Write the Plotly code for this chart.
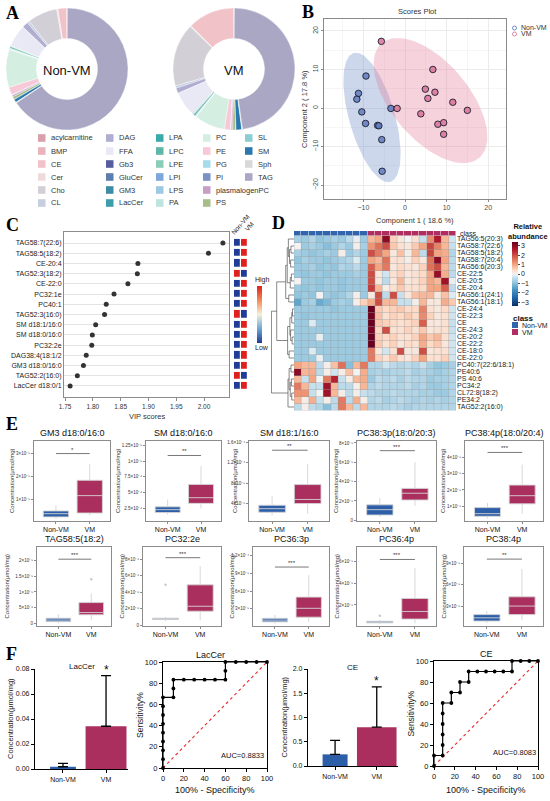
import numpy as np
import plotly.graph_objects as go

W, H = 550, 801
SANS = "Liberation Sans"
SERIF = "Liberation Serif"

# ===================== DATA =====================
# A: lipid class composition (% of total)
lipid_classes = ["acylcarnitine", "BMP", "CE", "Cer", "Cho", "CL",
                 "DAG", "FFA", "Gb3", "GluCer", "GM3", "LacCer",
                 "LPA", "LPC", "LPE", "LPI", "LPS", "PA",
                 "PC", "PE", "PG", "PI", "plasmalogenPC", "PS",
                 "SL", "SM", "Sph", "TAG"]
class_colors = ["#D8A1A9", "#E9B3BC", "#F1C3C8", "#EEDCDD", "#D2D0D6", "#C5CFDF",
                "#AFADD0", "#E8E9F5", "#575C9C", "#5C7DAE", "#3C8CA6", "#3D9DAB",
                "#39AAAA", "#5DB6A6", "#8ACDB8", "#7DA6DA", "#9DC9E2", "#BDE4DF",
                "#D4EEE1", "#F6C8D8", "#A6DBEA", "#7B91C6", "#C69EC6", "#A6BE88",
                "#8ACDD4", "#2A79AE", "#D8D8D8", "#AAA7C5"]
nonvm_share = [0.1, 0.1, 2.2, 0.3, 7.5, 0.6,
               1.5, 5.5, 0.05, 0.1, 0.05, 0.05,
               0.05, 0.4, 0.2, 0.05, 0.05, 0.1,
               9.5, 2.0, 0.05, 0.1, 0.4, 0.7,
               0.05, 0.8, 0.2, 62.0]
vm_share = [0.1, 0.1, 12.2, 0.3, 16.5, 0.6,
            1.4, 6.5, 0.05, 0.1, 0.05, 0.1,
            0.05, 0.5, 0.2, 0.05, 0.05, 0.1,
            8.0, 1.6, 0.05, 0.1, 0.4, 0.8,
            0.05, 1.5, 0.2, 47.0]

# B: PLS-DA scores
nonvm_c1 = [-9.4, -11.2, -11.6, -10.4, -9.5, -6.6, -6.3, -5.6, -5.5, -3.4]
nonvm_c2 = [8.3, 3.8, 2.3, -1.0, -4.0, -4.5, -4.6, -8.2, -16.4, -0.1]
vm_c1 = [-5.7, -1.9, 6.7, 4.9, 7.2, 5.5, 11.5, 15.0, 3.8, 7.9, 9.3, 9.3]
vm_c2 = [17.3, -0.1, 10.0, 4.9, 4.1, 2.5, 1.5, -0.6, -1.5, -4.2, -3.8, -6.8]

# C: VIP scores
vip_names = ["TAG58:7(22:6)", "TAG58:5(18:2)", "CE-20:4", "TAG52:3(18:2)", "CE-22:0",
             "PC32:1e", "PC40:1", "TAG52:3(16:0)", "SM d18:1/16:0", "SM d18:0/16:0",
             "PC32:2e", "DAG38:4(18:1/2", "GM3 d18:0/16:0", "TAG52:2(16:0)", "LacCer d18:0/1"]
vip_scores = [2.034, 2.008, 1.881, 1.880, 1.863, 1.838, 1.824, 1.821, 1.805, 1.799,
              1.798, 1.788, 1.783, 1.772, 1.759]
vip_vm_higher = [1, 1, 1, 0, 1, 1, 1, 0, 1, 1, 1, 1, 1, 0, 1]

# D: heatmap (relative abundance, z-score)
hm_rows = ["TAG56:5(20:3)", "TAG58:7(22:6)", "TAG58:5(18:2)", "TAG58:7(20:4)", "TAG56:6(20:3)",
           "CE-22:5", "CE-20:5", "CE-20:4", "TAG56:1(24:1)", "TAG56:1(18:1)",
           "CE-24:4", "CE-22:3", "CE", "CE-24:3", "CE-20:2", "CE-22:2", "CE-18:0", "CE-22:0",
           "PC40:7(22:6/18:1)", "PE40:6", "PS 40:6", "PC34:2", "CL72:8(18:2)", "PE34:2", "TAG52:2(16:0)"]
hm_class = [0] * 10 + [1] * 12
hm_values = [
    [-0.7, -0.8, -0.6, -0.9, -0.8, -0.7, -0.8, -0.5, -0.1, -0.8, 0.8, 1.0, 3.0, 0.5, 0.2, 0.0, 0.3, -0.4, 1.3, 2.6, 0.8, -0.3],
    [0.0, -0.8, -0.7, -0.8, -1.0, -0.8, -0.6, -0.8, 0.1, -0.7, 1.2, 1.6, 2.0, 0.6, 0.3, 0.2, 0.6, 1.0, 2.1, 1.4, 0.8, -0.4],
    [-0.7, -0.8, -0.9, -0.8, -0.7, -0.8, 0.1, -0.8, -0.6, -0.8, 2.0, 1.5, 1.0, 0.2, 0.7, 0.1, 0.8, -0.5, 2.1, 1.0, 0.9, -0.6],
    [-0.9, -0.7, -0.8, -0.8, -0.9, -0.8, -0.7, -0.6, -0.2, -0.8, 1.0, 0.8, 1.6, 0.3, 0.3, 0.1, 0.5, 0.2, 1.6, 3.0, 1.0, -0.5],
    [-0.8, -0.8, -0.7, -0.9, -0.8, -0.9, -0.6, -0.7, -0.5, -0.8, 1.8, 1.0, 1.5, 0.2, 0.4, 0.3, 0.2, 0.5, 1.6, 2.0, 0.8, -0.5],
    [-0.8, -0.9, -0.8, -0.8, -0.9, -0.8, -0.8, -0.8, -0.7, -0.8, 2.0, 0.2, -0.3, 0.3, 0.5, 0.2, 0.3, 0.4, 1.0, 2.9, 0.9, -0.5],
    [0.0, -0.8, -0.8, -0.9, -0.8, -0.8, -0.9, -0.8, -0.8, -0.8, 2.0, 0.2, -0.5, 0.2, 0.8, 0.2, 0.3, 0.5, 1.0, 0.8, 2.8, -0.1],
    [-0.8, -0.9, -0.8, -0.9, -0.8, -0.8, -0.9, -0.8, -0.8, -0.8, 2.2, 0.8, 0.1, 0.3, 0.6, 0.3, 0.3, 0.4, 1.0, 1.0, 1.8, -0.5],
    [-0.9, -0.8, -0.9, 0.0, -0.8, -0.9, -0.8, -0.6, 0.1, -0.8, 0.2, 2.0, -0.5, 2.0, -0.4, 0.2, 0.7, 0.8, 0.8, 0.2, 0.7, -0.2],
    [-1.4, -0.8, -0.7, -1.3, -1.1, -0.8, -0.7, -0.8, 0.1, 0.5, 0.9, 2.0, 0.8, 0.8, -0.4, -0.4, 0.1, 0.8, 0.2, 0.2, 0.9, 0.6],
    [-0.8, -0.8, -0.8, -0.8, -0.8, -0.9, -0.8, -0.8, -0.8, -0.8, 3.4, 0.6, 0.4, 0.5, 0.6, 0.4, 0.4, 1.4, 0.3, 0.2, 0.4, -0.3],
    [-0.8, -0.9, -0.8, -0.8, -0.8, -0.8, -0.8, -0.8, -0.8, -0.8, 3.3, 0.7, 0.3, 0.5, 0.4, 0.6, 0.4, 1.3, 0.5, 0.2, 0.3, -0.3],
    [-0.8, -0.8, -0.2, -0.8, -0.8, -0.8, -0.8, -0.8, -0.8, -0.8, 3.4, 0.6, 0.5, 0.4, 0.3, 0.4, 0.5, 1.8, 0.2, 0.2, 0.3, -0.4],
    [-0.8, -0.8, -0.8, -0.8, -0.8, -0.8, -0.8, -0.8, -0.8, -0.8, 3.2, 0.4, 2.0, 0.3, 0.3, 0.5, 0.3, 0.6, 0.2, 0.3, 0.3, -0.4],
    [-0.8, -0.8, -0.8, -0.1, -0.8, -0.8, -0.8, -0.8, -0.8, -0.8, 3.5, 0.5, 0.4, 0.5, 0.3, 0.3, 0.5, 1.0, 0.6, 0.8, 0.3, -0.3],
    [-0.8, -0.8, -0.8, -0.8, -0.8, -0.8, -0.8, -0.8, -0.8, -0.8, 3.4, 0.6, 0.3, 0.5, 0.2, 0.4, 0.3, 0.9, 0.4, 0.6, 0.2, -0.3],
    [-0.8, -0.8, -0.2, -0.8, -0.8, -0.8, -0.8, -0.8, -0.8, -0.8, 1.5, 0.2, -0.3, 0.3, 2.0, 0.2, 0.2, 2.0, 0.2, 0.3, 0.3, -0.3],
    [-0.8, -0.8, -0.8, -0.1, -0.8, -0.8, -0.8, -0.8, -0.8, -0.8, 1.5, 0.5, 0.3, 0.6, 0.3, 0.2, 0.5, 1.0, 0.3, 0.3, 0.5, -0.3],
    [1.0, 0.8, 0.8, -0.5, 0.1, 0.7, 1.6, -1.0, 0.8, 1.5, -0.6, -0.6, -0.3, -0.5, -0.6, -0.5, -0.6, -0.4, -0.7, -0.9, -0.8, -0.7],
    [3.0, 0.8, 0.9, -0.5, 0.1, -0.3, 0.1, 0.7, 0.0, 0.9, -0.7, -0.6, -0.7, -0.6, -0.6, -0.5, -0.7, -0.6, -0.7, -0.8, -0.7, -0.6],
    [0.8, -0.4, 1.0, 0.0, 1.5, 2.5, -0.4, 0.1, 0.8, 0.9, -0.8, -0.5, -0.6, -0.5, -0.7, -0.5, -0.6, -0.6, -0.8, -0.7, -0.7, -0.6],
    [1.5, 0.8, -0.4, -0.4, 2.8, 0.8, -0.5, -0.5, 0.1, 0.8, -0.6, -0.5, -0.6, -0.6, -0.6, -0.5, -0.7, -0.6, -0.8, -0.8, -0.7, -0.6],
    [1.2, 1.2, -0.4, 0.0, 2.8, 0.8, 0.1, -0.5, 0.1, -0.4, -0.5, -0.6, -0.6, -0.5, -0.6, -0.6, -0.6, -0.7, -0.7, -0.8, -0.8, -0.6],
    [0.8, 0.1, 0.9, -0.4, 0.1, -0.5, 1.5, -0.5, 0.9, 0.1, -0.6, -0.5, -0.7, -0.6, -0.5, -0.6, -0.7, -0.6, -0.7, -0.6, -0.7, -0.6],
    [-0.5, 0.1, -0.5, -0.6, -1.0, -0.5, 1.5, 0.8, -0.5, 0.8, -0.6, -0.6, -0.6, -0.5, -0.6, -0.7, -0.6, -0.6, -0.6, -0.6, -0.6, -0.6],
]
# row dendrogram linkage: (child a, child b, height); new clusters numbered from 25
hm_linkage = [(1, 2, 0.8), (3, 4, 0.9), (25, 26, 1.2), (0, 27, 1.5), (5, 6, 0.7), (29, 7, 1.0),
              (28, 30, 1.8), (8, 9, 1.4), (31, 32, 2.2), (10, 11, 0.4), (12, 34, 0.6), (14, 15, 0.5),
              (13, 36, 0.9), (35, 37, 1.1), (16, 17, 1.3), (38, 39, 1.7), (33, 40, 4.6),
              (18, 19, 0.8), (20, 21, 0.7), (22, 23, 0.6), (43, 44, 1.0), (42, 45, 1.3), (46, 24, 1.6),
              (41, 47, 6.0)]

# E: box plot summaries [lower whisker, Q1, median, Q3, upper whisker] (in tick units)
box_titles = ["GM3 d18:0/16:0", "SM d18:0/16:0", "SM d18:1/16:0", "PC38:3p(18:0/20:3)", "PC38:4p(18:0/20:4)",
              "TAG58:5(18:2)", "PC32:2e", "PC36:3p", "PC36:4p", "PC38:4p"]
box_nonvm = [[0.15, 0.23, 0.37, 0.49, 0.74], [1.5, 1.84, 2.3, 2.75, 3.9], [1.7, 2.3, 3.0, 3.67, 5.4],
             [0.35, 0.55, 1.1, 1.6, 2.3], [0.25, 0.39, 0.55, 0.92, 1.2], [0.0, 0.05, 0.1, 0.16, 0.28],
             [0.5, 0.7, 0.78, 0.85, 1.0], [0.5, 0.8, 1.1, 1.4, 2.0], [0.25, 0.35, 0.42, 0.5, 0.6],
             [0.6, 0.9, 1.35, 1.8, 2.3]]
box_vm = [[0.3, 0.40, 1.16, 1.83, 2.53], [2.5, 3.3, 4.2, 6.3, 9.2], [2.0, 4.0, 4.8, 7.7, 11.7],
          [1.5, 2.1, 2.8, 3.3, 6.0], [0.55, 1.15, 1.65, 2.3, 3.55], [0.1, 0.27, 0.34, 0.66, 0.95],
          [0.6, 1.7, 2.3, 4.9, 7.2], [0.8, 1.6, 3.1, 5.0, 8.75], [0.3, 0.7, 1.4, 2.6, 5.4],
          [1.0, 1.8, 3.0, 4.3, 8.2]]
box_out_nonvm = [[], [], [], [], [], [], [4.9], [], [1.0], []]
box_out_vm = [[], [], [], [], [], [1.41], [], [], [], []]
sig_labels = ["*", "**", "**", "***", "***", "***", "***", "***", "***", "**"]
sig_heights = [3.0, 10.9, 14.4, 7.2, 4.3, 2.05, 8.2, 10.1, 6.2, 9.6]
box_tickvals = [[1, 2, 3], [2.5, 5, 7.5, 10, 12.5], [4, 8, 12, 16], [0, 2, 4, 6, 8], [1, 2, 3, 4],
                [0, 0.5, 1, 1.5, 2], [0, 2, 4, 6, 8], [3, 6, 9, 12], [0, 2, 4, 6], [3, 6, 9]]
box_ticktext = [["1×10⁻⁵", "2×10⁻⁵", "3×10⁻⁵"],
                ["2.5×10⁻⁶", "5×10⁻⁶", "7.5×10⁻⁶", "1×10⁻⁵", "1.25×10⁻⁵"],
                ["4×10⁻⁵", "8×10⁻⁵", "1.2×10⁻⁴", "1.6×10⁻⁴"],
                ["0", "2×10⁻⁵", "4×10⁻⁵", "6×10⁻⁵", "8×10⁻⁵"],
                ["1×10⁻⁵", "2×10⁻⁵", "3×10⁻⁵", "4×10⁻⁵"],
                ["0", "5×10⁻⁶", "1×10⁻⁵", "1.5×10⁻⁵", "2×10⁻⁵"],
                ["0", "2×10⁻⁶", "4×10⁻⁶", "6×10⁻⁶", "8×10⁻⁶"],
                ["3×10⁻⁵", "6×10⁻⁵", "9×10⁻⁵", "1.2×10⁻⁴"],
                ["0", "2×10⁻⁵", "4×10⁻⁵", "6×10⁻⁵"],
                ["3×10⁻⁵", "6×10⁻⁵", "9×10⁻⁵"]]

# F: bar means / SD and ROC curves
groups = ["Non-VM", "VM"]
laccer_mean = [0.0018, 0.0342]
laccer_sd = [0.0027, 0.0405]
ce_mean = [0.24, 0.80]
ce_sd = [0.29, 0.83]
roc_laccer_fpr = [0, 0, 0, 0, 0, 0, 0, 0, 0, 10, 10, 10, 20, 30, 40, 50, 60, 60, 60, 70, 80, 90, 100]
roc_laccer_tpr = [0, 8.333, 16.667, 25, 33.333, 41.667, 50, 58.333, 66.667, 66.667, 75, 83.333, 83.333,
                  83.333, 83.333, 83.333, 83.333, 91.667, 100, 100, 100, 100, 100]
roc_ce_fpr = [0, 0, 8.333, 8.333, 8.333, 8.333, 8.333, 8.333, 16.667, 16.667, 25, 25, 33.333, 33.333,
              41.667, 50, 58.333, 66.667, 75, 75, 83.333, 91.667, 100]
roc_ce_tpr = [0, 10, 10, 20, 30, 40, 50, 60, 60, 70, 70, 80, 80, 90, 90, 90, 90, 90, 90, 100, 100, 100, 100]

BLUE = "#2D5FA8"
CRIMSON = "#AA2F5E"

# ===================== HELPERS =====================
fig = go.Figure()
axes = {}
annotations = []
shapes = []
counter = [0]


def new_axes(x0, x1, y0, y1, xkw=None, ykw=None):
    counter[0] += 1
    k = counter[0]
    s = "" if k == 1 else str(k)
    xa = dict(domain=[x0 / W, x1 / W], anchor="y" + s, showgrid=False, zeroline=False)
    ya = dict(domain=[1 - y1 / H, 1 - y0 / H], anchor="x" + s, showgrid=False, zeroline=False)
    xa.update(xkw or {})
    ya.update(ykw or {})
    axes["xaxis" + s] = xa
    axes["yaxis" + s] = ya
    return "x" + s, "y" + s


def ann(text, x, y, size=8, color="#222", family=SANS, **kw):
    d = dict(text=text, x=x / W, y=1 - y / H, xref="paper", yref="paper", showarrow=False,
             xanchor="center", yanchor="middle",
             font=dict(size=size, family=family, color=color))
    d.update(kw)
    annotations.append(d)


def prect(x0, y0, x1, y1, color, line=None):
    shapes.append(dict(type="rect", xref="paper", yref="paper", x0=x0 / W, x1=x1 / W,
                       y0=1 - y1 / H, y1=1 - y0 / H, fillcolor=color,
                       line=line or dict(width=0)))


# panel letters
for lab, (lx, ly) in zip("ABCDEF", [(4, 13), (300, 12), (4, 225), (270, 223), (4, 424), (4, 654)]):
    ann("<b>" + lab + "</b>", lx, ly, size=18, color="black", family=SERIF, xanchor="left")

# ===================== A: donuts =====================
for vals, (cx, name) in zip([nonvm_share, vm_share], [(67, "Non-VM"), (234, "VM")]):
    fig.add_trace(go.Pie(labels=lipid_classes, values=vals, hole=0.5, sort=False,
                         direction="counterclockwise", rotation=0, textinfo="none",
                         marker=dict(colors=class_colors, line=dict(color="white", width=0.4)),
                         showlegend=False,
                         domain=dict(x=[(cx - 61) / W, (cx + 61) / W], y=[1 - 130 / H, 1 - 8 / H])))
    ann(name, cx, 70, size=13, color="#111")

leg_cols = [38, 106, 156, 203, 245]
leg_rows = [138, 151, 164, 177, 190, 203]
for i, (nm, col) in enumerate(zip(lipid_classes, class_colors)):
    cxl = leg_cols[i // 6]
    cyl = leg_rows[i % 6]
    prect(cxl, cyl - 3.8, cxl + 7.5, cyl + 3.8, col)
    ann(nm, cxl + 11, cyl, size=7.5, color="#333", xanchor="left")

# ===================== B: scores plot =====================
bx, by = new_axes(324, 506, 19, 199,
                  dict(range=[-19.5, 24.3], tickvals=[-10, 0, 10, 20], showgrid=True, gridcolor="#ebebeb",
                       minor=dict(dtick=5, showgrid=True, gridcolor="#f5f5f5"),
                       showline=True, mirror=True, linecolor="#8a8a8a", ticks="outside", ticklen=2,
                       tickcolor="#8a8a8a", tickfont=dict(size=7, color="#4d4d4d", family=SANS)),
                  dict(range=[-23.6, 23.1], tickvals=[-20, -10, 0, 10, 20], showgrid=True, gridcolor="#ebebeb",
                       minor=dict(dtick=5, showgrid=True, gridcolor="#f5f5f5"),
                       showline=True, mirror=True, linecolor="#8a8a8a", ticks="outside", ticklen=2,
                       tickcolor="#8a8a8a", tickangle=-90, tickfont=dict(size=7, color="#4d4d4d", family=SANS)))


def conf_ellipse(x, y, k=2.4477, n=120):
    x = np.asarray(x, float)
    y = np.asarray(y, float)
    vals, vecs = np.linalg.eigh(np.cov(x, y))
    t = np.linspace(0, 2 * np.pi, n)
    pts = vecs @ (k * np.sqrt(vals)[:, None] * np.vstack([np.cos(t), np.sin(t)]))
    return x.mean() + pts[0], y.mean() + pts[1]


for cx1, cx2, fill in [(nonvm_c1, nonvm_c2, "rgba(120,150,205,0.38)"),
                       (vm_c1, vm_c2, "rgba(225,125,155,0.35)")]:
    ex, ey = conf_ellipse(cx1, cx2)
    fig.add_trace(go.Scatter(x=ex, y=ey, mode="lines", fill="toself", fillcolor=fill,
                             line=dict(width=0), hoverinfo="skip", showlegend=False, xaxis=bx, yaxis=by))
for cx1, cx2, col in [(nonvm_c1, nonvm_c2, "rgba(95,125,190,0.85)"), (vm_c1, vm_c2, "rgba(215,115,150,0.85)")]:
    fig.add_trace(go.Scatter(x=cx1, y=cx2, mode="markers",
                             marker=dict(size=6.5, color=col, line=dict(color="#1c1c2c", width=0.9)),
                             showlegend=False, xaxis=bx, yaxis=by))
ann("Scores Plot", 417, 11, size=7.5, color="#333")
ann("Component 1 ( 18.6 %)", 415, 220, size=7.5, color="#333")
ann("Component 2 ( 17.8 %)", 304, 109, size=7.5, color="#333", textangle=-90)
for nm, yy, col in [("Non-VM", 28, "#5f80c0"), ("VM", 34, "#d57a98")]:
    shapes.append(dict(type="circle", xref="paper", yref="paper", x0=512.5 / W, x1=516.5 / W,
                       y0=1 - (yy + 2) / H, y1=1 - (yy - 2) / H, line=dict(color=col, width=0.9)))
    ann(nm, 519, yy, size=7, color="#333", xanchor="left")

# ===================== C: VIP plot =====================
nrow = len(vip_names)
cx_, cy_ = new_axes(64, 229, 232, 397,
                    dict(range=[1.748, 2.045], tickvals=[1.75, 1.80, 1.85, 1.90, 1.95, 2.00],
                         ticktext=["1.75", "1.80", "1.85", "1.90", "1.95", "2.00"],
                         showline=True, mirror=True, linecolor="#8c8c8c", ticks="outside", ticklen=3,
                         tickcolor="#8c8c8c", tickfont=dict(size=6.5, color="#333", family=SANS)),
                    dict(range=[nrow - 1 + 1.08, -1.08], tickvals=list(range(nrow)), ticktext=vip_names,
                         showgrid=True, gridcolor="#e4e4e4", showline=True, mirror=True, linecolor="#8c8c8c",
                         ticks="", tickfont=dict(size=7, color="#222", family=SANS)))
fig.add_trace(go.Scatter(x=vip_scores, y=list(range(nrow)), mode="markers",
                         marker=dict(size=5, color="#333333"), showlegend=False, xaxis=cx_, yaxis=cy_))
ann("VIP scores", 147, 416, size=7.5, color="#333")

sqx, sqy = new_axes(234, 248, 232, 397,
                    dict(range=[-0.5, 1.5], visible=False),
                    dict(range=[nrow - 1 + 1.08, -1.08], visible=False))
sq_z = [[1 - v, v] for v in vip_vm_higher]
vip_scale = [[0, "#1F3C98"], [0.25, "#6FA6D6"], [0.5, "#F4F1D8"], [0.75, "#F58A52"], [1, "#E01F1F"]]
fig.add_trace(go.Heatmap(z=sq_z, x=[0, 1], y=list(range(nrow)), colorscale=vip_scale, zmin=0, zmax=1,
                         xgap=1.2, ygap=3.2, xaxis=sqx, yaxis=sqy,
                         colorbar=dict(x=257 / W, xanchor="left", y=1 - 314.5 / H, yanchor="middle",
                                       len=57 / H, lenmode="fraction", thickness=5, outlinewidth=0,
                                       xpad=0, ypad=0, showticklabels=False, ticks="")))
ann("Non-VM", 240, 224, size=6.5, color="#222", textangle=-50)
ann("VM", 249, 226, size=6.5, color="#222", textangle=-50)
ann("High", 262, 280, size=7, color="#222")
ann("Low", 262, 348, size=7, color="#222")

# ===================== D: heatmap =====================
nr, nc = len(hm_rows), len(hm_class)
hx, hy = new_axes(294, 456, 235.5, 410.5,
                  dict(range=[-0.5, nc - 0.5], visible=False),
                  dict(range=[nr - 0.5, -0.5], side="right", tickvals=list(range(nr)), ticktext=hm_rows,
                       ticks="", tickfont=dict(size=7, color="#222", family=SANS)))
hm_scale = [[0, "#053061"], [0.132, "#2166AC"], [0.25, "#4393C3"], [0.368, "#92C5DE"],
            [0.456, "#D1E5F0"], [0.5, "#F3F3F3"], [0.559, "#FDDBC7"], [0.647, "#F4A582"],
            [0.765, "#D6604D"], [0.882, "#B2182B"], [1, "#67001F"]]
fig.add_trace(go.Heatmap(z=hm_values, x=list(range(nc)), y=list(range(nr)), colorscale=hm_scale,
                         zmin=-3.4, zmax=3.4, xaxis=hx, yaxis=hy,
                         colorbar=dict(x=512 / W, xanchor="left", y=1 - 274 / H, yanchor="middle",
                                       len=64 / H, lenmode="fraction", thickness=6, outlinewidth=0,
                                       xpad=0, ypad=0,
                                       tickvals=[-3, -2, -1, 0, 1, 2, 3], ticks="outside", ticklen=2,
                                       tickfont=dict(size=7, color="#222", family=SANS))))
for k in range(nc + 1):
    shapes.append(dict(type="line", xref=hx, yref=hy, x0=k - 0.5, x1=k - 0.5, y0=-0.5, y1=nr - 0.5,
                       line=dict(color="#9c9c9c", width=0.4), layer="above"))
for k in range(nr + 1):
    shapes.append(dict(type="line", xref=hx, yref=hy, x0=-0.5, x1=nc - 0.5, y0=k - 0.5, y1=k - 0.5,
                       line=dict(color="#9c9c9c", width=0.4), layer="above"))

cbx, cby = new_axes(294, 456, 231, 235.5, dict(range=[-0.5, nc - 0.5], visible=False),
                    dict(range=[-0.5, 0.5], visible=False))
fig.add_trace(go.Heatmap(z=[hm_class], x=list(range(nc)), y=[0], colorscale=[[0, "#3064AD"], [1, "#B02D62"]],
                         zmin=0, zmax=1, showscale=False, xgap=0.5, xaxis=cbx, yaxis=cby))
ann("class", 458, 233, size=7, color="#222", xanchor="left")


def dendro_lines(linkage, n_leaves):
    pos = {i: float(i) for i in range(n_leaves)}
    hgt = {i: 0.0 for i in range(n_leaves)}
    xs, ys = [], []
    for k, (a, b, h) in enumerate(linkage):
        for ch in (a, b):
            xs += [hgt[ch], h, None]
            ys += [pos[ch], pos[ch], None]
        xs += [h, h, None]
        ys += [pos[a], pos[b], None]
        pos[n_leaves + k] = (pos[a] + pos[b]) / 2
        hgt[n_leaves + k] = h
    return xs, ys


dxs, dys = dendro_lines(hm_linkage, nr)
maxh = max(h for _, _, h in hm_linkage)
dx_, dy_ = new_axes(271, 294, 235.5, 410.5, dict(range=[maxh * 1.02, 0], visible=False),
                    dict(range=[nr - 0.5, -0.5], visible=False))
fig.add_trace(go.Scatter(x=dxs, y=dys, mode="lines", line=dict(color="#555", width=0.7),
                         showlegend=False, xaxis=dx_, yaxis=dy_))

ann("<b>Relative</b><br><b>abundance</b>", 528, 231, size=7.5, color="#111")
ann("<b>class</b>", 511, 318, size=8, color="#111", xanchor="left")
prect(512, 322, 518, 328, "#3064AD")
prect(512, 329, 518, 335, "#B02D62")
ann("Non-VM", 520, 325, size=7, color="#222", xanchor="left")
ann("VM", 520, 332, size=7, color="#222", xanchor="left")

# ===================== E: box plots =====================
e_frames = [(34, 110, 441, 521), (146, 221, 441, 521), (249, 329, 441, 521), (357, 436, 441, 521),
            (465, 543, 441, 521),
            (37, 111, 547, 626), (143, 221, 547, 626), (253, 329, 547, 626), (357, 436, 547, 626),
            (464, 543, 547, 626)]
e_yranges = [[0.05, 3.55], [0.5, 13.2], [0.6, 16.2], [-0.07, 8.2], [0.1, 5.0],
             [-0.09, 2.44], [-0.1, 9.5], [0.1, 13.5], [0.06, 7.35], [0.2, 11.3]]
e_ytitle_x = [12, 118, 235, 336, 443, 6, 121, 231, 336, 443]

for i in range(len(box_titles)):
    x0, x1, y0, y1 = e_frames[i]
    ex_, ey_ = new_axes(x0, x1, y0, y1,
                        dict(type="category", categoryorder="array", categoryarray=groups, range=[-0.65, 1.6],
                             showline=True, mirror=True, linecolor="#8c8c8c", ticks="outside", ticklen=2,
                             tickcolor="#8c8c8c", tickfont=dict(size=7, color="#111", family=SANS)),
                        dict(range=e_yranges[i], tickvals=box_tickvals[i], ticktext=box_ticktext[i],
                             showline=True, mirror=True, linecolor="#8c8c8c", ticks="outside", ticklen=2,
                             tickcolor="#8c8c8c", tickfont=dict(size=4.5, color="#333", family=SANS)))
    for g, st, col, outs in [("Non-VM", box_nonvm[i], BLUE, box_out_nonvm[i]),
                             ("VM", box_vm[i], CRIMSON, box_out_vm[i])]:
        fig.add_trace(go.Box(x=[g], lowerfence=[st[0]], q1=[st[1]], median=[st[2]], q3=[st[3]],
                             upperfence=[st[4]], fillcolor=col, line=dict(color="#d4d4d4", width=0.9),
                             whiskerwidth=0, width=0.75, boxpoints=False, showlegend=False,
                             xaxis=ex_, yaxis=ey_))
        if outs:
            fig.add_trace(go.Scatter(x=[g] * len(outs), y=outs, mode="markers",
                                     marker=dict(size=2.5, color="#c8c8c8"), showlegend=False,
                                     xaxis=ex_, yaxis=ey_))
    fig.add_trace(go.Scatter(x=groups, y=[sig_heights[i]] * 2, mode="lines",
                             line=dict(color="#555", width=0.8), showlegend=False, xaxis=ex_, yaxis=ey_))
    annotations.append(dict(text=sig_labels[i], x=0.5, y=sig_heights[i], xref=ex_, yref=ey_,
                            showarrow=False, xanchor="center", yanchor="bottom", yshift=-1,
                            font=dict(size=6, family=SANS, color="#333")))
    ann(box_titles[i], (x0 + x1) / 2, y0 - 8, size=9, color="#111")
    ann("Concentration(μmol/mg)", e_ytitle_x[i], (y0 + y1) / 2, size=6, color="#333", textangle=-90)

# ===================== F =====================
bar_axis_style = dict(showline=True, linecolor="black", linewidth=1.3, ticks="outside", ticklen=3,
                      tickwidth=1.2, tickcolor="black")


def bar_panel(x0, x1, y0, y1, means, sds, yr, tv, tt, title, tx, ty, ytx):
    fx, fy = new_axes(x0, x1, y0, y1,
                      dict(type="category", categoryorder="array", categoryarray=groups, range=[-0.65, 1.51],
                           tickfont=dict(size=7, color="#111", family=SANS), **bar_axis_style),
                      dict(range=yr, tickvals=tv, ticktext=tt,
                           tickfont=dict(size=7, color="#111", family=SANS), **bar_axis_style))
    fig.add_trace(go.Bar(x=groups, y=means, width=[0.6, 0.95], marker=dict(color=[BLUE, CRIMSON], line=dict(width=0)),
                         error_y=dict(type="data", symmetric=False, array=sds, arrayminus=[0, 0],
                                      color="black", thickness=1.3, width=5),
                         showlegend=False, xaxis=fx, yaxis=fy))
    annotations.append(dict(text="*", x="VM", y=means[1] + sds[1], xref=fx, yref=fy, showarrow=False,
                            xanchor="center", yanchor="bottom", yshift=-3,
                            font=dict(size=12, family=SANS, color="#111")))
    ann(title, tx, ty, size=8, color="#111")
    ann("Concentration(μmol/mg)", ytx, (y0 + y1) / 2, size=7.5, color="#222", textangle=-90)


def roc_panel(x0, x1, y0, y1, fpr, tpr, title, tx, ty, ytx, auc_xy):
    style = dict(range=[0, 100], tickvals=[0, 20, 40, 60, 80, 100], showline=True, mirror=True,
                 linecolor="black", linewidth=1.3, ticks="outside", ticklen=3, tickwidth=1.2,
                 tickcolor="black", tickfont=dict(size=7.5, color="#111", family=SANS))
    rx, ry = new_axes(x0, x1, y0, y1, dict(style), dict(style))
    fig.add_trace(go.Scatter(x=[0, 100], y=[0, 100], mode="lines", line=dict(color="#E8282B", width=1.1, dash="dot"),
                             showlegend=False, xaxis=rx, yaxis=ry))
    fig.add_trace(go.Scatter(x=fpr, y=tpr, mode="lines+markers", line=dict(color="black", width=1.2),
                             marker=dict(size=3.8, color="black"), cliponaxis=False,
                             showlegend=False, xaxis=rx, yaxis=ry))
    auc = np.trapezoid(np.array(tpr) / 100.0, np.array(fpr) / 100.0)
    ann("AUC=%.4f" % auc, auc_xy[0], auc_xy[1], size=7.5, color="#111")
    ann(title, tx, ty, size=9, color="#111")
    ann("Sensitivity%", ytx, (y0 + y1) / 2, size=8.5, color="#222", textangle=-90)
    ann("100% - Specificity%", (x0 + x1) / 2, 790, size=9, color="#111")


bar_panel(35, 128, 669, 769, laccer_mean, laccer_sd, [0, 0.08], [0, 0.02, 0.04, 0.06, 0.08],
          ["0.00", "0.02", "0.04", "0.06", "0.08"], "LacCer", 82, 666, 10)
roc_panel(163, 267, 662, 768, roc_laccer_fpr, roc_laccer_tpr, "LacCer", 211, 655, 140, (242, 755))
bar_panel(308, 398, 669, 766, ce_mean, ce_sd, [0, 2.0], [0, 0.5, 1.0, 1.5, 2.0],
          ["0.0", "0.5", "1.0", "1.5", "2.0"], "CE", 352, 667, 284)
roc_panel(434, 538, 661, 766, roc_ce_fpr, roc_ce_tpr, "CE", 486, 654, 410, (514, 752))

fig.update_layout(width=W, height=H, autosize=False, margin=dict(l=0, r=0, t=0, b=0),
                  paper_bgcolor="white", plot_bgcolor="white", template="none",
                  font=dict(family=SANS, color="#222"), showlegend=False,
                  annotations=annotations, shapes=shapes, **axes)
fig.write_html("out.html", config={"displayModeBar": False},
               post_script="document.body.style.margin='0';document.body.style.padding='0';")
